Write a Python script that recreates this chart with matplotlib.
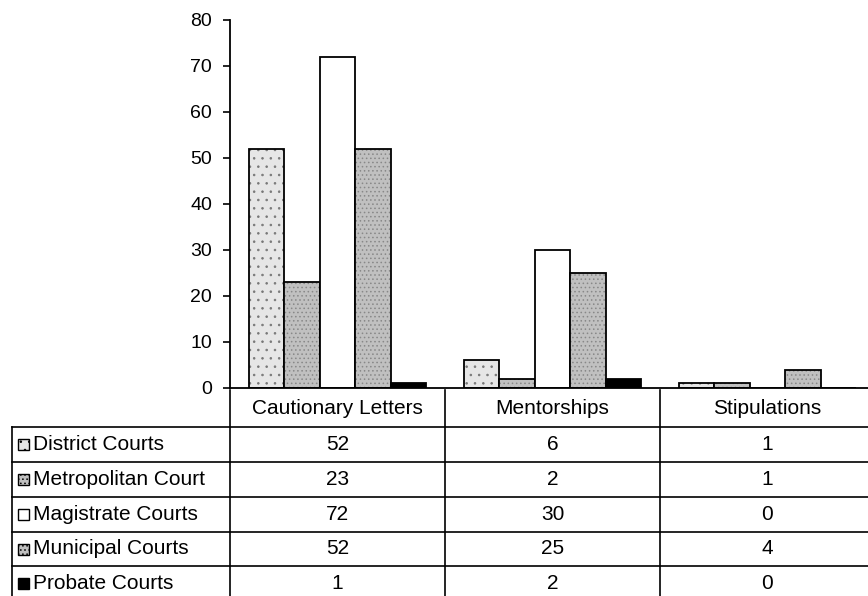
import numpy as np
import matplotlib.pyplot as plt
import matplotlib.transforms as mtransforms
from matplotlib.patches import Rectangle

plt.rcParams['font.family'] = ['Liberation Sans', 'DejaVu Sans']
plt.rcParams['hatch.linewidth'] = 0.6

# Sanction types per court level
categories = ['Cautionary Letters', 'Mentorships', 'Stipulations']
courts = ['District Courts', 'Metropolitan Court', 'Magistrate Courts',
          'Municipal Courts', 'Probate Courts']
district = [52, 6, 1]
metropolitan = [23, 2, 1]
magistrate = [72, 30, 0]
municipal = [52, 25, 4]
probate = [1, 2, 0]
series = [district, metropolitan, magistrate, municipal, probate]

# fill / hatch per court, roughly like the printed stipple patterns
styles = [
    dict(facecolor='#e6e6e6', hatch='..', edgecolor='#777777'),
    dict(facecolor='#c0c0c0', hatch='....', edgecolor='#888888'),
    dict(facecolor='white', hatch=None, edgecolor='black'),
    dict(facecolor='#c0c0c0', hatch='....', edgecolor='#888888'),
    dict(facecolor='black', hatch=None, edgecolor='black'),
]

W, H = 868, 596
fig = plt.figure(figsize=(W / 100, H / 100), dpi=100)
ax_l, ax_r, ax_t, ax_b = 230, 875, 20, 388
ax = fig.add_axes([ax_l / W, 1 - ax_b / H, (ax_r - ax_l) / W, (ax_b - ax_t) / H])

x = np.arange(len(categories))
bw = 35.5 / 215
for i, (vals, st) in enumerate(zip(series, styles)):
    ax.bar(x + (i - 2) * bw, vals, bw, color=st['facecolor'],
           hatch=st['hatch'], edgecolor=st['edgecolor'], linewidth=0)
    # black outline drawn separately so the hatch can stay grey
    ax.bar(x + (i - 2) * bw, vals, bw, fill=False, edgecolor='black',
           linewidth=1.3)

ax.set_xlim(-0.5, 2.5)
ax.set_ylim(0, 80)
ax.set_yticks(range(0, 81, 10))
ax.tick_params(axis='y', direction='out', length=5, width=1.2, labelsize=14,
               pad=8)
ax.set_xticks([])
for s in ['top', 'right']:
    ax.spines[s].set_visible(False)
ax.spines['left'].set_linewidth(1.3)
ax.spines['bottom'].set_linewidth(1.3)


# data table under the bars, laid out in pixel rows
def fy(py):
    return 1 - py / H


def fx(px):
    return px / W


colx = mtransforms.blended_transform_factory(ax.transData, fig.transFigure)
lab_left = 12
rows = [390, 427, 462, 497, 532, 566, 601]
col_edges = [-0.5, 0.5, 1.5, 2.5]
lw = 1.2
fs = 15

# vertical lines between the category columns
for xe in col_edges:
    ax.plot([xe, xe], [fy(rows[0]), fy(rows[-1])], transform=colx,
            color='black', lw=lw, clip_on=False)
# left edge of the row-label column
fig.add_artist(plt.Line2D([fx(lab_left)] * 2, [fy(rows[1]), fy(rows[-1])],
                          color='black', lw=lw))
# horizontal row lines
for py in rows[1:]:
    fig.add_artist(plt.Line2D([fx(lab_left), 1], [fy(py)] * 2,
                              color='black', lw=lw))

# column headers
hy = fy((rows[0] + rows[1]) / 2)
for j, cat in enumerate(categories):
    ax.text(x[j], hy, cat, transform=colx, ha='center', va='center',
            fontsize=fs)

# row labels with legend keys, then the values
for i, (court, vals, st) in enumerate(zip(courts, series, styles)):
    yc = (rows[i + 1] + rows[i + 2]) / 2
    sq = 11
    fig.add_artist(Rectangle((fx(18), fy(yc + sq / 2)), sq / W, sq / H,
                             transform=fig.transFigure,
                             facecolor=st['facecolor'], hatch=st['hatch'],
                             edgecolor='black', linewidth=1.0))
    fig.text(fx(33), fy(yc), court, ha='left', va='center', fontsize=fs)
    for j, v in enumerate(vals):
        ax.text(x[j], fy(yc), str(v), transform=colx, ha='center',
                va='center', fontsize=fs)

fig.savefig('out.png', dpi=100)
